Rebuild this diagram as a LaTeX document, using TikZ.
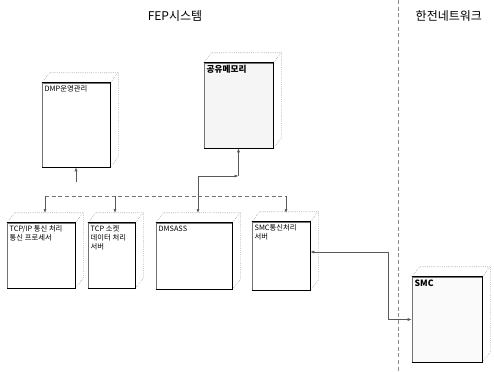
\documentclass[tikz,border=0pt]{standalone}
\usepackage{fontspec}
\setmainfont{Noto Sans CJK KR}
\usetikzlibrary{arrows.meta, positioning, calc}
\tikzset{
	front/.style={draw=black!55, line width=0.4pt, fill=white, inner sep=0pt},
	edge/.style={draw=black, line width=0.9pt},
	sideline/.style={draw=black!45, line width=0.4pt, densely dotted},
	boxlabel/.style={font=\fontsize{5.5}{6.5}\selectfont, align=left, inner sep=2pt, anchor=north west},
	title/.style={font=\fontsize{9}{10}\selectfont},
	link/.style={draw=black!65, line width=0.5pt},
	bus/.style={draw=black!55, line width=0.5pt, densely dashed}
}
% 3D look of a unit: top and side faces, heavy front edges
\newcommand{\unitfaces}[1]{%
	\draw[sideline] (#1.north west) -- ++(8,-10) -- ($(#1.north east)+(8,-10)$)
		-- ($(#1.south east)+(8,-10)$) -- (#1.south east);
	\draw[sideline] ($(#1.north east)+(8,-10)$) -- (#1.north east);
	\draw[edge] (#1.north west) -- (#1.north east) -- (#1.south east) -- (#1.south west);
}

\begin{document}
\begin{tikzpicture}[x=0.75pt, y=-0.75pt]
	\useasboundingbox (0,0) rectangle (494,372);
	
	% headings and border between the two parts
	\node[title] (fep) at (175,16) {FEP시스템};
	\node[title, anchor=west] (kepco) at (411,16) {한전네트워크};
	\coordinate (lntop) at (398,0);
	\coordinate (lnbot) at (398,372);
	\draw[draw=black!45, densely dashed, line width=0.4pt] (lntop) -- (lnbot);
	
	% upper units
	\node[front, minimum width=51pt, minimum height=63pt] (dmp) at (76,125) {};
	\unitfaces{dmp}
	\node[boxlabel] (dmpl) at (dmp.north west) {DMP운영관리};
	
	\node[front, fill=black!4, minimum width=51.75pt, minimum height=63.75pt] (shm) at (238.5,105.5) {};
	\unitfaces{shm}
	\node[boxlabel, font=\bfseries\fontsize{6.5}{7}\selectfont] (shml) at (shm.north west) {공유메모리};
	
	% lower row
	\node[front, minimum width=51pt, minimum height=48.75pt] (tcp) at (41,255.5) {};
	\unitfaces{tcp}
	\node[boxlabel] (tcpl) at (tcp.north west) {TCP/IP 통신 처리\\통신 프로세서};
	
	\node[front, minimum width=35.25pt, minimum height=48.75pt] (sock) at (111.5,255.5) {};
	\unitfaces{sock}
	\node[boxlabel] (sockl) at (sock.north west) {TCP 소켓\\데이터 처리\\서버};
	
	\node[front, minimum width=57pt, minimum height=49.5pt] (dms) at (194,256) {};
	\unitfaces{dms}
	\node[boxlabel] (dmsl) at (dms.north west) {DMSASS};
	
	\node[front, minimum width=43.5pt, minimum height=51pt] (smcp) at (281,256) {};
	\unitfaces{smcp}
	\node[boxlabel] (smcpl) at (smcp.north west) {SMC통신처리\\서버};
	
	% SMC on the network side
	\node[front, fill=black!2, minimum width=52.5pt, minimum height=63.75pt] (smc) at (447,319.5) {};
	\unitfaces{smc}
	\node[boxlabel, font=\bfseries\fontsize{6.5}{7}\selectfont] (smcl) at (smc.north west) {SMC};
	
	% connections
	\coordinate (dmpdrop) at (76,182);
	\draw[link, -{Latex[length=3pt]}] (dmpdrop) -- (dmp.south);
	
	\coordinate (j1) at (238.5,176);
	\coordinate (j2) at (198,176);
	\coordinate (j3) at (198,196);
	\draw[link, {Latex[length=3pt]}-] (shm.south) -- (j1);
	\draw[link, {Latex[length=3pt]}-] (j1) -- (j2) -- (j3);
	
	\coordinate (bw) at (45,196);
	\coordinate (be) at (286,196);
	\draw[bus] (bw) -- (be);
	\foreach \n/\xx in {tcp/45, sock/115, dms/198, smcp/286}{
		\coordinate (\n top) at (\xx,213);
		\coordinate (\n bus) at (\xx,196);
		\draw[link, -{Latex[length=3pt]}] (\n bus) -- (\n top);
	}
	
	\coordinate (k1) at (388,252);
	\coordinate (k2) at (388,319.5);
	\draw[link, {Latex[length=3pt]}-{Latex[length=3pt]}] (smcp.east |- k1) -- (k1) -- (k2) -- (smc.west);
\end{tikzpicture}
\end{document}
